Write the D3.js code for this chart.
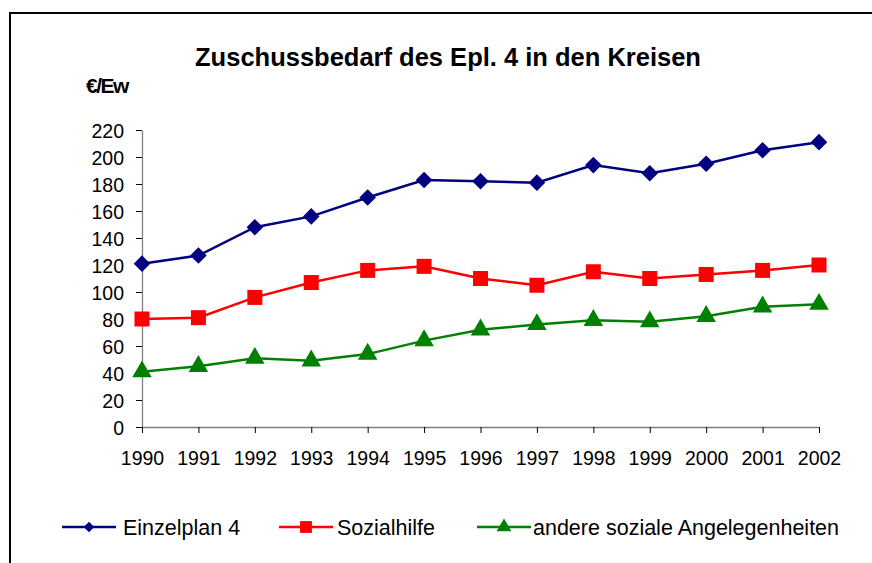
<!DOCTYPE html>
<html>
<head>
<meta charset="utf-8">
<script src="https://cdn.jsdelivr.net/npm/d3@7"></script>
<style>
  body { margin: 0; background: #fff; }
  text { font-family: "Liberation Sans", Arial, sans-serif; fill: #000; }
</style>
</head>
<body>
<div id="chart"></div>
<script>
const svgWidth = 872;
const svgHeight = 563;

// data
const years = ["1990", "1991", "1992", "1993", "1994", "1995", "1996",
  "1997", "1998", "1999", "2000", "2001", "2002"];
const einzelplan = [121, 127, 148, 156, 170, 183, 182, 181, 194, 188, 195, 205, 211];
const sozialhilfe = [80, 81, 96, 107, 116, 119, 110, 105, 115, 110, 113, 116, 120];
const andere = [41, 45, 51, 49, 54, 64, 72, 76, 79, 78, 82, 89, 91];
const yTicks = [0, 20, 40, 60, 80, 100, 120, 140, 160, 180, 200, 220];

const seriesNames = ["Einzelplan 4", "Sozialhilfe", "andere soziale Angelegenheiten"];
const seriesColors = ["#000080", "#ff0000", "#008000"];
const seriesShapes = [d3.symbolDiamond2, d3.symbolSquare, d3.symbolTriangle];

const series = [einzelplan, sozialhilfe, andere].map((values, i) => ({
  name: seriesNames[i],
  color: seriesColors[i],
  shape: seriesShapes[i],
  values: values
}));

const margin = { top: 130, right: 53, bottom: 136, left: 142 };
const width = svgWidth - margin.left - margin.right;
const height = svgHeight - margin.top - margin.bottom;

const svg = d3.select("#chart")
  .append("svg")
  .attr("width", svgWidth)
  .attr("height", svgHeight);

// chart frame (only top and left edges are visible in the crop)
svg.append("path")
  .attr("d", `M10,${svgHeight} V13 H${svgWidth}`)
  .attr("fill", "none")
  .attr("stroke", "#000")
  .attr("stroke-width", 2);

svg.append("text")
  .attr("x", 448)
  .attr("y", 66)
  .attr("text-anchor", "middle")
  .style("font-size", "25.5px")
  .style("font-weight", "bold")
  .text("Zuschussbedarf des Epl. 4 in den Kreisen");

svg.append("text")
  .attr("x", 86)
  .attr("y", 93)
  .style("font-size", "21px")
  .style("font-weight", "bold")
  .style("letter-spacing", "-1.5px")
  .text("€/Ew");

const chartGroup = svg.append("g")
  .attr("transform", `translate(${margin.left}, ${margin.top})`);

const xScale = d3.scalePoint()
  .domain(years)
  .range([0, width]);

const yScale = d3.scaleLinear()
  .domain([0, 220])
  .range([height, 0]);

const leftAxis = d3.axisLeft(yScale)
  .tickValues(yTicks)
  .tickSize(6)
  .tickPadding(12)
  .tickSizeOuter(0);

const bottomAxis = d3.axisBottom(xScale)
  .tickSize(6)
  .tickPadding(18)
  .tickSizeOuter(0);

const yAxis = chartGroup.append("g").call(leftAxis);
const xAxis = chartGroup.append("g")
  .attr("transform", `translate(0, ${height})`)
  .call(bottomAxis);

[yAxis, xAxis].forEach(ax => {
  ax.select(".domain").attr("stroke", "#808080").attr("stroke-width", 1.3);
  ax.selectAll(".tick line").attr("stroke", "#000");
  ax.selectAll("text")
    .style("font-size", "19.5px")
    .style("font-family", "'Liberation Sans', Arial, sans-serif")
    .attr("fill", "#000");
});
xAxis.selectAll("text").attr("dy", null).attr("y", 38);
yAxis.selectAll("text").attr("dy", "0.36em");

const line = d3.line()
  .x((d, i) => xScale(years[i]))
  .y(d => yScale(d));

const markerSize = { diamond: 175, square: 225, triangle: 165 };
function sizeOf(shape, s) {
  if (shape === d3.symbolDiamond2) return s.diamond;
  if (shape === d3.symbolSquare) return s.square;
  return s.triangle;
}

series.forEach(s => {
  chartGroup.append("path")
    .datum(s.values)
    .attr("fill", "none")
    .attr("stroke", s.color)
    .attr("stroke-width", 2.5)
    .attr("d", line);

  chartGroup.selectAll(null)
    .data(s.values)
    .enter()
    .append("path")
    .attr("transform", (d, i) => `translate(${xScale(years[i])}, ${yScale(d)})`)
    .attr("d", d3.symbol().type(s.shape).size(sizeOf(s.shape, markerSize)))
    .attr("fill", s.color);
});

// legend
const legendX = [62, 279, 477];
const legendTextX = [61, 58, 56];
const legendY = 527;
const legendMarker = { diamond: 70, square: 140, triangle: 95 };
series.forEach((s, i) => {
  const g = svg.append("g")
    .attr("transform", `translate(${legendX[i]}, ${legendY})`);
  g.append("line")
    .attr("x1", 0).attr("x2", 54)
    .attr("stroke", s.color)
    .attr("stroke-width", 2.5);
  g.append("path")
    .attr("transform", "translate(27, 0)")
    .attr("d", d3.symbol().type(s.shape).size(sizeOf(s.shape, legendMarker)))
    .attr("fill", s.color);
  g.append("text")
    .attr("x", legendTextX[i])
    .attr("y", 8)
    .style("font-size", "21.5px")
    .text(s.name);
});
</script>
</body>
</html>
